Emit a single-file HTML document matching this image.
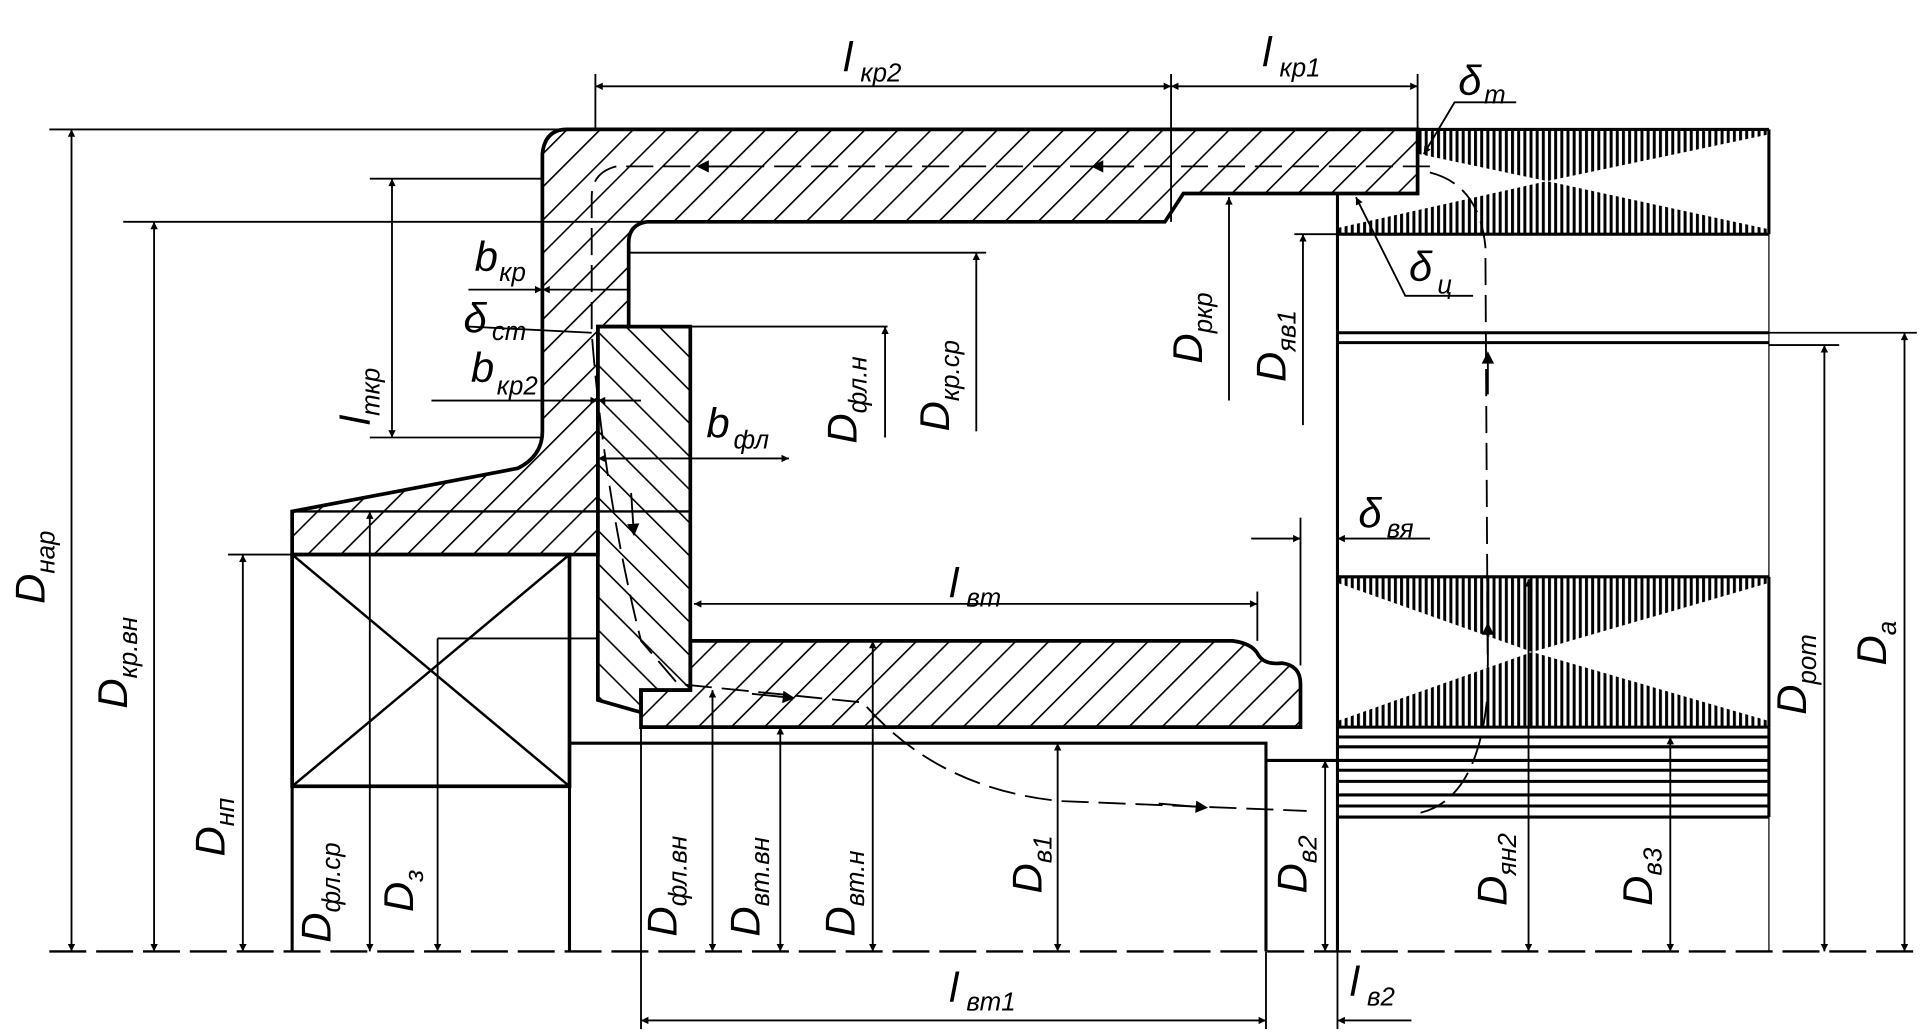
<!DOCTYPE html>
<html><head><meta charset="utf-8"><style>
html,body{margin:0;padding:0;background:#fff;width:1923px;height:1034px;overflow:hidden}
svg{display:block}
text{font-family:"Liberation Sans","DejaVu Sans",sans-serif;font-style:italic;fill:#000}
.t{font-size:34px}.s{font-size:21px}
</style></head><body>
<svg width="1923" height="1034" viewBox="0 0 1560 839" preserveAspectRatio="none" xmlns="http://www.w3.org/2000/svg">
<defs>
<pattern id="h1" width="19" height="19" patternUnits="userSpaceOnUse" patternTransform="rotate(45)"><line x1="0" y1="0" x2="0" y2="19" stroke="#000" stroke-width="2.6"/></pattern>
<pattern id="h2" width="19" height="19" patternUnits="userSpaceOnUse" patternTransform="rotate(-45)"><line x1="0" y1="0" x2="0" y2="19" stroke="#000" stroke-width="2.6"/></pattern>
<pattern id="hv" width="5" height="10" patternUnits="userSpaceOnUse"><line x1="2" y1="0" x2="2" y2="10" stroke="#000" stroke-width="2.4"/></pattern>
<marker id="a" viewBox="0 0 10 10" refX="10" refY="5" markerWidth="14" markerHeight="6" orient="auto-start-reverse" markerUnits="userSpaceOnUse"><path d="M0,0L10,5L0,10z" fill="#000"/></marker>
<marker id="b" viewBox="0 0 10 10" refX="5" refY="5" markerWidth="26" markerHeight="10" orient="auto" markerUnits="userSpaceOnUse"><path d="M0,0L10,5L0,10z" fill="#000"/></marker>
</defs>
<g stroke="#000" fill="none">
<!-- core top region -->
<rect x="1085" y="105" width="350" height="85" fill="url(#hv)" stroke="none"/>
<polygon points="1085,111 1085,185 1255,147" fill="#fff" stroke="none"/>
<polygon points="1435,109 1435,186 1255,147" fill="#fff" stroke="none"/>
<rect x="1085" y="468" width="350" height="122" fill="url(#hv)" stroke="none"/>
<polygon points="1085,473 1085,585 1243,529" fill="#fff" stroke="none"/>
<polygon points="1435,473 1435,585 1243,529" fill="#fff" stroke="none"/>
<!-- casing -->
<path d="M460,105 L1150,105 L1150,157 L960,157 L945,180 L525,180 Q510,182 510,197 L510,265 L485,265 L485,450 L237,450 L237,415 L420,380 Q440,370 440,350 L440,125 Q442,105 460,105Z" fill="#fff" stroke="none"/>
<path d="M460,105 L1150,105 L1150,157 L960,157 L945,180 L525,180 Q510,182 510,197 L510,265 L485,265 L485,450 L237,450 L237,415 L420,380 Q440,370 440,350 L440,125 Q442,105 460,105Z" fill="url(#h1)" stroke-width="3"/>
<line x1="237" y1="415" x2="560" y2="415" stroke-width="2"/>
<!-- flange -->
<path d="M485,265 L560,265 L560,560 L520,560 L520,578 L485,568Z" fill="url(#h2)" stroke-width="3"/>
<!-- hub -->
<path d="M560,520 L1000,520 Q1015,522 1020,530 Q1025,540 1040,538 Q1055,540 1055,555 L1055,590 L520,590 L520,560 L560,560Z" fill="url(#h1)" stroke-width="3"/>
<!-- bearing -->
<rect x="237" y="450" width="225" height="188" fill="#fff" stroke-width="3"/>
<line x1="237" y1="450" x2="462" y2="638" stroke-width="2"/><line x1="462" y1="450" x2="237" y2="638" stroke-width="2"/>
<g stroke-width="2.5">
<line x1="237" y1="638" x2="237" y2="772"/><line x1="462" y1="603" x2="462" y2="772"/>
<polyline points="462,603 1027,603 1027,772"/>
<line x1="1085" y1="157" x2="1085" y2="772"/>
<line x1="1150" y1="105" x2="1435" y2="105"/><line x1="1085" y1="190" x2="1435" y2="190"/>
<line x1="1435" y1="105" x2="1435" y2="190"/>
<line x1="1085" y1="270" x2="1435" y2="270"/><line x1="1085" y1="278" x2="1435" y2="278"/>
<line x1="1085" y1="468" x2="1435" y2="468"/><line x1="1085" y1="590" x2="1435" y2="590"/>
<line x1="1435" y1="468" x2="1435" y2="590"/>
<line x1="1435" y1="190" x2="1435" y2="468" stroke-width="1"/>
<line x1="1085" y1="598" x2="1435" y2="598"/><line x1="1085" y1="606" x2="1435" y2="606"/><line x1="1085" y1="617" x2="1435" y2="617"/><line x1="1085" y1="625" x2="1435" y2="625"/><line x1="1085" y1="634" x2="1435" y2="634"/><line x1="1085" y1="645" x2="1435" y2="645"/><line x1="1085" y1="654" x2="1435" y2="654"/><line x1="1085" y1="663" x2="1435" y2="663"/>
<line x1="1435" y1="590" x2="1435" y2="663"/><line x1="1435" y1="663" x2="1435" y2="772" stroke-width="1"/>
<line x1="1027" y1="617" x2="1085" y2="617"/>
</g>
<!-- axis -->
<line x1="40" y1="772" x2="1555" y2="772" stroke-width="2" stroke-dasharray="30,8"/>
<line x1="40" y1="105" x2="460" y2="105" stroke-width="1.5"/>
<!-- flux path -->
<g stroke-width="1.5" stroke-dasharray="22,8">
<path d="M1160,135 L500,135 Q480,140 480,160 L480,270 Q490,400 520,520 L550,555 Q650,565 700,570 Q760,640 860,650 L1060,658"/>
<path d="M1160,140 Q1200,150 1205,200 L1207,560 Q1200,650 1150,660"/>
</g>
<g stroke-width="1.5">
<line x1="920" y1="135" x2="890" y2="135" marker-end="url(#b)"/>
<line x1="600" y1="135" x2="570" y2="135" marker-end="url(#b)"/>
<line x1="512" y1="400" x2="514" y2="430" marker-end="url(#b)"/>
<line x1="610" y1="563" x2="640" y2="566" marker-end="url(#b)"/>
<line x1="940" y1="652" x2="975" y2="655" marker-end="url(#b)"/>
<line x1="1207" y1="320" x2="1207" y2="290" marker-end="url(#b)"/>
<line x1="1207" y1="540" x2="1207" y2="510" marker-end="url(#b)"/>
</g>
<!-- dimensions -->
<g stroke-width="1.5">
<line x1="58" y1="772" x2="58" y2="105" marker-start="url(#a)" marker-end="url(#a)"/>
<line x1="100" y1="180" x2="520" y2="180"/>
<line x1="125" y1="772" x2="125" y2="180" marker-start="url(#a)" marker-end="url(#a)"/>
<line x1="300" y1="145" x2="440" y2="145"/><line x1="300" y1="355" x2="440" y2="355"/>
<line x1="318" y1="145" x2="318" y2="355" marker-start="url(#a)" marker-end="url(#a)"/>
<line x1="185" y1="450" x2="237" y2="450"/>
<line x1="197" y1="772" x2="197" y2="450" marker-start="url(#a)" marker-end="url(#a)"/>
<line x1="300" y1="772" x2="300" y2="415" marker-start="url(#a)" marker-end="url(#a)"/>
<line x1="355" y1="518" x2="485" y2="518"/>
<line x1="355" y1="772" x2="355" y2="518" marker-start="url(#a)"/>
<line x1="578" y1="772" x2="578" y2="560" marker-start="url(#a)" marker-end="url(#a)"/>
<line x1="633" y1="772" x2="633" y2="590" marker-start="url(#a)" marker-end="url(#a)"/>
<line x1="708" y1="772" x2="708" y2="520" marker-start="url(#a)" marker-end="url(#a)"/>
<line x1="858" y1="772" x2="858" y2="603" marker-start="url(#a)" marker-end="url(#a)"/>
<line x1="1075" y1="772" x2="1075" y2="617" marker-start="url(#a)" marker-end="url(#a)"/>
<line x1="1240" y1="772" x2="1240" y2="470" marker-start="url(#a)" marker-end="url(#a)"/>
<line x1="1355" y1="772" x2="1355" y2="598" marker-start="url(#a)" marker-end="url(#a)"/>
<line x1="1435" y1="280" x2="1492" y2="280"/><line x1="1435" y1="270" x2="1555" y2="270"/>
<line x1="1480" y1="772" x2="1480" y2="280" marker-start="url(#a)" marker-end="url(#a)"/>
<line x1="1545" y1="772" x2="1545" y2="270" marker-start="url(#a)" marker-end="url(#a)"/>
<line x1="560" y1="265" x2="720" y2="265"/>
<line x1="718" y1="355" x2="718" y2="265" marker-end="url(#a)"/>
<line x1="510" y1="205" x2="800" y2="205"/>
<line x1="792" y1="350" x2="792" y2="205" marker-end="url(#a)"/>
<line x1="997" y1="325" x2="997" y2="160" marker-end="url(#a)"/>
<line x1="1050" y1="190" x2="1085" y2="190"/>
<line x1="1057" y1="345" x2="1057" y2="190" marker-end="url(#a)"/>
<line x1="483" y1="60" x2="483" y2="105"/><line x1="950" y1="60" x2="950" y2="180"/><line x1="1150" y1="60" x2="1150" y2="105"/>
<line x1="483" y1="70" x2="950" y2="70" marker-start="url(#a)" marker-end="url(#a)"/>
<line x1="950" y1="70" x2="1150" y2="70" marker-start="url(#a)" marker-end="url(#a)"/>
<line x1="1020" y1="480" x2="1020" y2="520"/>
<line x1="563" y1="490" x2="1020" y2="490" marker-start="url(#a)" marker-end="url(#a)"/>
<line x1="520" y1="590" x2="520" y2="835"/><line x1="1027" y1="772" x2="1027" y2="835"/><line x1="1085" y1="772" x2="1085" y2="835"/>
<line x1="520" y1="828" x2="1027" y2="828" marker-start="url(#a)" marker-end="url(#a)"/>
<line x1="1145" y1="828" x2="1085" y2="828" marker-end="url(#a)"/>
<line x1="1055" y1="420" x2="1055" y2="540"/>
<line x1="1015" y1="437" x2="1055" y2="437" marker-end="url(#a)"/>
<line x1="1125" y1="437" x2="1085" y2="437" marker-end="url(#a)"/>
<line x1="1160" y1="437" x2="1125" y2="437"/>
<line x1="380" y1="235" x2="440" y2="235" marker-end="url(#a)"/>
<line x1="440" y1="235" x2="510" y2="235" marker-start="url(#a)"/>
<line x1="380" y1="265" x2="480" y2="270"/>
<line x1="350" y1="325" x2="485" y2="325" marker-end="url(#a)"/>
<line x1="520" y1="325" x2="485" y2="325" marker-end="url(#a)"/>
<line x1="640" y1="372" x2="485" y2="372" marker-start="url(#a)"/>
<line x1="485" y1="372" x2="510" y2="372" marker-start="url(#a)"/>
<polyline points="1230,83 1180,83 1155,125" marker-end="url(#a)"/>
<polyline points="1195,240 1140,240 1100,160" marker-end="url(#a)"/>
</g>
</g>
<!-- labels -->
<text x="684" y="58" class="t">l</text><text x="698" y="66" class="s">кр2</text>
<text x="1024" y="54" class="t">l</text><text x="1038" y="62" class="s">кр1</text>
<text x="1183" y="77" class="t">δ</text><text x="1204" y="84" class="s">т</text>
<text x="1143" y="228" class="t">δ</text><text x="1166" y="238" class="s">ц</text>
<text x="385" y="220" class="t">b</text><text x="405" y="228" class="s">кр</text>
<text x="376" y="270" class="t">δ</text><text x="399" y="276" class="s">ст</text>
<text x="382" y="310" class="t">b</text><text x="403" y="320" class="s">кр2</text>
<text x="573" y="355" class="t">b</text><text x="595" y="364" class="s">фл</text>
<text x="1102" y="428" class="t">δ</text><text x="1125" y="436" class="s">вя</text>
<text x="770" y="485" class="t">l</text><text x="784" y="492" class="s">вт</text>
<text x="770" y="813" class="t">l</text><text x="784" y="820" class="s">вт1</text>
<text x="1095" y="808" class="t">l</text><text x="1109" y="816" class="s">в2</text>
<g>
<text transform="translate(36,490) rotate(-90)"><tspan class="t">D</tspan><tspan class="s" dy="8">нар</tspan></text>
<text transform="translate(103,575) rotate(-90)"><tspan class="t">D</tspan><tspan class="s" dy="8">кр.вн</tspan></text>
<text transform="translate(300,345) rotate(-90)"><tspan class="t">l</tspan><tspan class="s" dy="8">ткр</tspan></text>
<text transform="translate(182,695) rotate(-90)"><tspan class="t">D</tspan><tspan class="s" dy="8">нп</tspan></text>
<text transform="translate(268,765) rotate(-90)"><tspan class="t">D</tspan><tspan class="s" dy="8">фл.ср</tspan></text>
<text transform="translate(335,740) rotate(-90)"><tspan class="t">D</tspan><tspan class="s" dy="8">з</tspan></text>
<text transform="translate(549,760) rotate(-90)"><tspan class="t">D</tspan><tspan class="s" dy="8">фл.вн</tspan></text>
<text transform="translate(616,760) rotate(-90)"><tspan class="t">D</tspan><tspan class="s" dy="8">вт.вн</tspan></text>
<text transform="translate(693,760) rotate(-90)"><tspan class="t">D</tspan><tspan class="s" dy="8">вт.н</tspan></text>
<text transform="translate(845,725) rotate(-90)"><tspan class="t">D</tspan><tspan class="s" dy="8">в1</tspan></text>
<text transform="translate(1060,725) rotate(-90)"><tspan class="t">D</tspan><tspan class="s" dy="8">в2</tspan></text>
<text transform="translate(1222,735) rotate(-90)"><tspan class="t">D</tspan><tspan class="s" dy="8">ян2</tspan></text>
<text transform="translate(1340,735) rotate(-90)"><tspan class="t">D</tspan><tspan class="s" dy="8">в3</tspan></text>
<text transform="translate(1465,580) rotate(-90)"><tspan class="t">D</tspan><tspan class="s" dy="8">рот</tspan></text>
<text transform="translate(1530,540) rotate(-90)"><tspan class="t">D</tspan><tspan class="s" dy="8">а</tspan></text>
<text transform="translate(695,360) rotate(-90)"><tspan class="t">D</tspan><tspan class="s" dy="8">фл.н</tspan></text>
<text transform="translate(770,350) rotate(-90)"><tspan class="t">D</tspan><tspan class="s" dy="8">кр.ср</tspan></text>
<text transform="translate(975,295) rotate(-90)"><tspan class="t">D</tspan><tspan class="s" dy="8">ркр</tspan></text>
<text transform="translate(1043,310) rotate(-90)"><tspan class="t">D</tspan><tspan class="s" dy="8">яв1</tspan></text>
</g>
</svg>
</body></html>
